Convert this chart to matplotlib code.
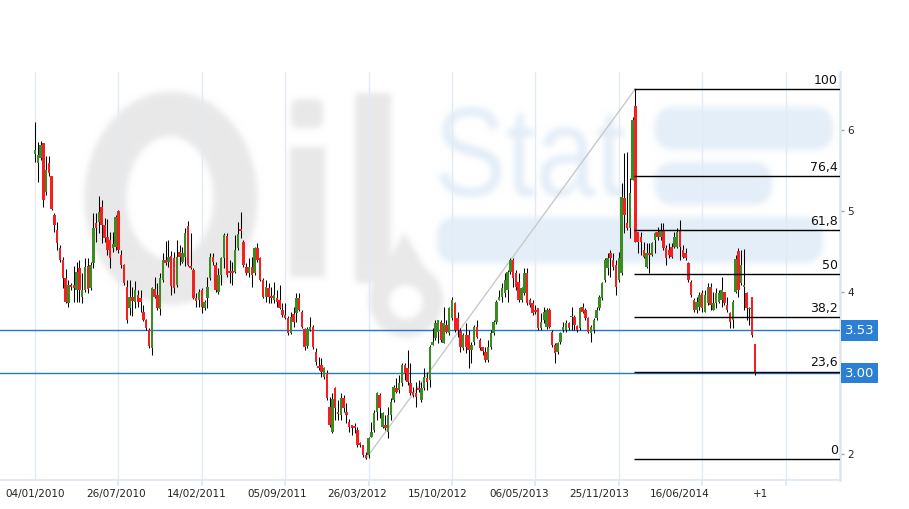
import matplotlib
matplotlib.use("Agg")
import matplotlib.pyplot as plt
import numpy as np
from matplotlib.patches import Ellipse, Rectangle, FancyBboxPatch, Polygon, Circle, PathPatch
from matplotlib.textpath import TextPath
from matplotlib.font_manager import FontProperties
from matplotlib.transforms import Affine2D, blended_transform_factory
from matplotlib.backends.backend_agg import FigureCanvasAgg

# ---------------- data (weekly candles) ----------------
opens = [
    5.70, 5.59, 5.65, 5.84, 5.24, 5.59, 5.43, 4.95, 4.77, 4.54,
    4.40, 4.17, 3.86, 4.09, 4.09, 4.02, 4.30, 3.94, 4.02, 4.32,
    4.05, 4.36, 4.85, 4.86, 5.05, 4.83, 4.68, 4.64, 4.54, 4.56,
    5.00, 4.46, 4.33, 4.06, 3.80, 3.94, 3.88, 3.96, 3.93, 3.75,
    3.65, 3.53, 3.31, 4.04, 3.96, 3.79, 4.15, 4.40, 4.37, 4.44,
    4.42, 4.09, 4.49, 4.37, 4.43, 4.81, 4.32, 4.27, 3.93, 3.90,
    4.02, 3.80, 3.93, 4.17, 4.43, 4.33, 4.00, 4.21, 4.42, 4.69,
    4.26, 4.26, 4.25, 4.54, 4.78, 4.62, 4.31, 4.23, 4.31, 4.23,
    4.54, 4.42, 4.15, 3.94, 4.05, 3.94, 3.90, 3.93, 3.90, 3.78,
    3.72, 3.68, 3.49, 3.73, 3.74, 3.93, 3.75, 3.54, 3.33, 3.53,
    3.57, 3.26, 3.09, 3.10, 2.95, 3.00, 2.58, 2.27, 2.82, 2.52,
    2.48, 2.69, 2.52, 2.40, 2.36, 2.35, 2.30, 2.14, 2.11, 1.99,
    1.99, 2.21, 2.30, 2.52, 2.73, 2.33, 2.36, 2.27, 2.48, 2.67,
    2.81, 2.79, 2.88, 3.10, 3.06, 2.88, 2.77, 2.75, 2.81, 2.67,
    2.81, 2.94, 2.91, 3.35, 3.43, 3.51, 3.63, 3.37, 3.59, 3.49,
    3.68, 3.86, 3.68, 3.52, 3.31, 3.47, 3.47, 3.28, 3.38, 3.57,
    3.41, 3.32, 3.26, 3.16, 3.32, 3.49, 3.63, 3.90, 3.94, 3.99,
    4.02, 4.25, 4.40, 4.23, 4.12, 3.90, 3.99, 4.23, 3.90, 3.86,
    3.78, 3.80, 3.56, 3.65, 3.57, 3.78, 3.51, 3.35, 3.26, 3.38,
    3.53, 3.53, 3.62, 3.69, 3.69, 3.58, 3.56, 3.82, 3.78, 3.68,
    3.49, 3.53, 3.68, 3.80, 3.93, 4.15, 4.30, 4.48, 4.40, 4.33,
    4.15, 4.23, 5.16, 4.85, 4.79, 5.38, 6.30, 4.74, 4.68, 4.52,
    4.31, 4.48, 4.46, 4.64, 4.74, 4.68, 4.77, 4.54, 4.52, 4.56,
    4.56, 4.56, 4.77, 4.52, 4.48, 4.36, 4.12, 3.90, 3.78, 3.82,
    3.99, 3.75, 3.86, 4.06, 3.78, 3.86, 3.88, 3.90, 4.00, 3.84,
    3.74, 3.65, 4.00, 4.51, 4.11, 4.06, 3.99, 3.79, 3.94, 3.36,
]
highs = [
    6.10, 5.85, 5.86, 5.84, 5.68, 5.68, 5.43, 4.98, 4.86, 4.58,
    4.43, 4.28, 4.15, 4.11, 4.32, 4.37, 4.40, 4.23, 4.42, 4.42,
    4.37, 4.98, 4.98, 5.19, 5.14, 4.91, 4.90, 4.74, 4.74, 4.95,
    5.01, 4.52, 4.34, 4.15, 4.15, 4.06, 4.14, 4.02, 4.02, 3.84,
    3.67, 3.56, 4.06, 4.19, 4.11, 4.24, 4.48, 4.63, 4.64, 4.51,
    4.49, 4.64, 4.58, 4.56, 4.79, 4.88, 4.73, 4.30, 3.99, 4.04,
    4.05, 3.90, 4.19, 4.48, 4.48, 4.37, 4.30, 4.43, 4.73, 4.73,
    4.40, 4.37, 4.70, 4.86, 4.99, 4.64, 4.36, 4.42, 4.43, 4.56,
    4.60, 4.43, 4.17, 4.15, 4.11, 4.06, 4.12, 4.02, 4.09, 3.86,
    3.86, 3.70, 3.75, 3.82, 3.99, 3.99, 3.78, 3.56, 3.57, 3.69,
    3.59, 3.31, 3.20, 3.19, 3.08, 3.04, 2.70, 2.75, 2.83, 2.67,
    2.75, 2.73, 2.63, 2.43, 2.36, 2.38, 2.33, 2.15, 2.11, 2.03,
    2.21, 2.40, 2.54, 2.77, 2.75, 2.52, 2.48, 2.58, 2.69, 2.85,
    2.94, 2.98, 3.12, 3.12, 3.28, 3.12, 2.83, 2.89, 2.91, 2.89,
    3.06, 3.01, 3.35, 3.56, 3.65, 3.65, 3.65, 3.82, 3.65, 3.82,
    3.94, 3.88, 3.75, 3.56, 3.49, 3.62, 3.53, 3.38, 3.59, 3.65,
    3.43, 3.32, 3.32, 3.41, 3.53, 3.65, 3.90, 4.02, 4.11, 4.23,
    4.27, 4.42, 4.42, 4.27, 4.23, 4.06, 4.30, 4.30, 3.93, 3.90,
    3.84, 3.80, 3.74, 3.82, 3.80, 3.80, 3.53, 3.37, 3.38, 3.51,
    3.63, 3.65, 3.63, 3.82, 3.72, 3.59, 3.82, 3.86, 3.80, 3.69,
    3.59, 3.68, 3.82, 3.96, 4.12, 4.42, 4.48, 4.52, 4.48, 4.40,
    4.49, 5.35, 5.72, 5.73, 5.41, 6.16, 6.51, 4.74, 4.74, 4.62,
    4.60, 4.60, 4.62, 4.74, 4.80, 4.85, 4.85, 4.58, 4.60, 4.60,
    4.74, 4.79, 4.89, 4.58, 4.54, 4.37, 4.15, 3.93, 3.94, 4.00,
    4.02, 4.02, 4.11, 4.11, 4.00, 4.05, 4.02, 4.19, 4.00, 3.94,
    3.75, 3.90, 4.46, 4.54, 4.52, 4.53, 4.00, 3.82, 3.94, 3.36,
]
lows = [
    5.61, 5.36, 5.63, 5.05, 5.20, 5.43, 5.01, 4.74, 4.52, 4.37,
    4.05, 3.86, 3.81, 4.02, 3.88, 3.88, 3.88, 3.86, 4.00, 3.99,
    4.02, 4.30, 4.62, 4.73, 4.60, 4.62, 4.46, 4.30, 4.49, 4.52,
    4.48, 4.30, 4.09, 3.62, 3.72, 3.70, 3.80, 3.82, 3.75, 3.64,
    3.53, 3.31, 3.22, 3.93, 3.78, 3.72, 4.12, 4.33, 4.31, 3.96,
    3.99, 4.06, 4.33, 4.36, 4.32, 4.32, 4.28, 3.91, 3.82, 3.82,
    3.74, 3.78, 3.80, 4.15, 4.33, 4.00, 3.98, 4.09, 4.30, 4.19,
    4.11, 4.09, 4.23, 4.52, 4.67, 4.31, 4.21, 4.19, 4.06, 4.21,
    4.37, 4.14, 3.93, 3.88, 3.86, 3.86, 3.86, 3.82, 3.79, 3.69,
    3.67, 3.47, 3.48, 3.57, 3.63, 3.77, 3.56, 3.28, 3.31, 3.52,
    3.30, 3.10, 3.04, 2.95, 2.93, 2.67, 2.33, 2.26, 2.42, 2.42,
    2.42, 2.52, 2.38, 2.27, 2.24, 2.26, 2.09, 2.09, 1.96, 1.94,
    1.95, 2.21, 2.27, 2.42, 2.44, 2.32, 2.30, 2.20, 2.42, 2.64,
    2.75, 2.75, 2.84, 2.91, 2.85, 2.73, 2.70, 2.58, 2.77, 2.64,
    2.79, 2.79, 2.83, 3.35, 3.41, 3.37, 3.38, 3.37, 3.49, 3.47,
    3.65, 3.51, 3.44, 3.26, 3.28, 3.25, 3.06, 3.12, 3.35, 3.43,
    3.28, 3.22, 3.14, 3.14, 3.30, 3.47, 3.60, 3.90, 3.88, 3.94,
    3.88, 4.22, 4.06, 4.02, 3.88, 3.88, 3.96, 3.84, 3.82, 3.72,
    3.73, 3.53, 3.53, 3.62, 3.54, 3.56, 3.32, 3.12, 3.24, 3.36,
    3.51, 3.51, 3.53, 3.53, 3.53, 3.51, 3.53, 3.74, 3.65, 3.49,
    3.38, 3.49, 3.65, 3.78, 3.90, 4.12, 4.21, 4.19, 4.27, 3.96,
    4.12, 4.21, 4.73, 4.77, 4.67, 5.38, 4.62, 4.48, 4.46, 4.42,
    4.30, 4.23, 4.44, 4.48, 4.64, 4.64, 4.52, 4.33, 4.42, 4.42,
    4.54, 4.54, 4.40, 4.42, 4.40, 4.12, 3.94, 3.75, 3.74, 3.78,
    3.75, 3.75, 3.84, 3.78, 3.78, 3.80, 3.86, 3.82, 3.84, 3.75,
    3.56, 3.56, 3.99, 3.94, 4.09, 3.78, 3.65, 3.59, 3.44, 2.98,
]
closes = [
    5.75, 5.69, 5.82, 5.14, 5.51, 5.47, 5.03, 4.83, 4.61, 4.40,
    4.17, 3.88, 4.09, 4.06, 4.05, 4.25, 4.02, 4.02, 4.31, 4.04,
    4.33, 4.79, 4.79, 4.99, 4.83, 4.67, 4.52, 4.42, 4.59, 4.93,
    4.52, 4.33, 4.11, 3.65, 3.94, 3.89, 4.02, 3.88, 3.88, 3.65,
    3.56, 3.33, 4.05, 3.94, 3.80, 4.17, 4.40, 4.36, 4.43, 4.07,
    4.05, 4.43, 4.43, 4.48, 4.73, 4.33, 4.30, 3.93, 3.89, 4.00,
    3.82, 3.88, 4.06, 4.43, 4.37, 4.02, 4.21, 4.42, 4.70, 4.21,
    4.23, 4.23, 4.52, 4.72, 4.75, 4.33, 4.23, 4.31, 4.21, 4.54,
    4.40, 4.15, 3.94, 4.06, 3.94, 3.93, 3.96, 3.88, 3.80, 3.72,
    3.68, 3.49, 3.69, 3.63, 3.93, 3.78, 3.57, 3.32, 3.54, 3.57,
    3.32, 3.14, 3.06, 3.01, 3.06, 2.69, 2.36, 2.68, 2.57, 2.49,
    2.69, 2.57, 2.48, 2.33, 2.32, 2.32, 2.11, 2.11, 1.99, 1.95,
    2.20, 2.27, 2.51, 2.75, 2.57, 2.51, 2.32, 2.48, 2.64, 2.83,
    2.77, 2.88, 3.10, 3.00, 2.89, 2.75, 2.73, 2.70, 2.79, 2.81,
    2.95, 2.89, 3.32, 3.38, 3.62, 3.65, 3.41, 3.62, 3.51, 3.80,
    3.90, 3.53, 3.53, 3.32, 3.47, 3.32, 3.28, 3.35, 3.57, 3.44,
    3.31, 3.27, 3.16, 3.32, 3.49, 3.63, 3.88, 3.94, 4.05, 4.15,
    4.25, 4.40, 4.17, 4.06, 3.90, 4.05, 4.23, 3.86, 3.84, 3.74,
    3.75, 3.56, 3.63, 3.75, 3.78, 3.57, 3.35, 3.25, 3.37, 3.49,
    3.57, 3.62, 3.56, 3.70, 3.59, 3.53, 3.80, 3.75, 3.68, 3.51,
    3.57, 3.65, 3.78, 3.94, 4.11, 4.40, 4.42, 4.42, 4.31, 4.06,
    4.42, 5.17, 4.95, 4.79, 5.22, 6.12, 4.62, 4.62, 4.62, 4.43,
    4.48, 4.46, 4.60, 4.73, 4.68, 4.77, 4.54, 4.42, 4.46, 4.43,
    4.68, 4.74, 4.56, 4.43, 4.42, 4.15, 3.96, 3.78, 3.88, 3.96,
    3.80, 3.96, 4.06, 3.84, 3.86, 3.99, 3.99, 4.02, 3.86, 3.78,
    3.63, 3.88, 4.41, 4.02, 4.33, 4.09, 3.80, 3.80, 3.47, 3.00,
]
date_labels = ["04/01/2010", "26/07/2010", "14/02/2011", "05/09/2011",
               "26/03/2012", "15/10/2012", "06/05/2013", "25/11/2013",
               "16/06/2014", "+1"]
label_step = 29          # weeks between two date labels
grid_step = 30           # bars between two vertical grid lines
fib_levels = [0, 23.6, 38.2, 50, 61.8, 76.4, 100]
ref_level = 3.53
y_ticks = [2, 4, 5, 6]

# ---------------- figure ----------------
W, H = 909, 509
DPI = 100
fig = plt.figure(figsize=(W / DPI, H / DPI), dpi=DPI)
fig.patch.set_facecolor("white")

# ---- watermark: drawn off-screen, softened, then placed behind the chart ----
wfig = plt.figure(figsize=(W / DPI, H / DPI), dpi=DPI)
wax = wfig.add_axes([0, 0, 1, 1])
wax.set_xlim(0, W)
wax.set_ylim(H, 0)
wax.axis("off")
wm_gray = "#e9e9e9"
wm_blue = "#e4eef8"
wax.add_patch(Ellipse((171, 198), 173, 213, fc=wm_gray, ec="none"))
wax.add_patch(Ellipse((170, 198), 87, 123, fc="white", ec="none"))
wax.add_patch(FancyBboxPatch((291, 99), 32, 29, boxstyle="round,pad=0,rounding_size=8", fc=wm_gray, ec="none"))
wax.add_patch(Rectangle((290, 147), 35, 130, fc=wm_gray, ec="none"))
wax.add_patch(Rectangle((355, 93), 36, 190, fc=wm_gray, ec="none"))
wax.add_patch(Polygon([(374, 290), (404, 232), (438, 290)], closed=True, fc=wm_gray, ec="none"))
wax.add_patch(Circle((406, 300), 37, fc=wm_gray, ec="none"))
wax.add_patch(Circle((406, 302), 17, fc="white", ec="none"))
tp = TextPath((0, 0), "Stat", size=100, prop=FontProperties(family="Liberation Sans"))
bb = tp.get_extents()
tr = Affine2D().translate(-bb.x0, -bb.y0).scale(186 / bb.width, -90 / bb.height).translate(439, 197)
wax.add_patch(PathPatch(tr.transform_path(tp), fc=wm_blue, ec="none"))
for (bx, by, bw, bh) in [(655, 107, 178, 43), (655, 162, 117, 43), (437, 217, 386, 46)]:
    wax.add_patch(FancyBboxPatch((bx, by), bw, bh, boxstyle="round,pad=0,rounding_size=20",
                                 fc=wm_blue, ec="none"))
canvas = FigureCanvasAgg(wfig)
canvas.draw()
img = np.asarray(canvas.buffer_rgba())[..., :3].astype(float) / 255.0
plt.close(wfig)


def box_blur(a, r, axis):
    pad = [(0, 0)] * a.ndim
    pad[axis] = (r + 1, r)
    p = np.pad(a, pad, mode="edge")
    cs = np.cumsum(p, axis=axis)
    hi = np.take(cs, np.arange(2 * r + 1, cs.shape[axis]), axis=axis)
    lo_ = np.take(cs, np.arange(0, cs.shape[axis] - 2 * r - 1), axis=axis)
    return (hi - lo_) / (2 * r + 1)


for _ in range(2):
    img = box_blur(img, 3, 0)
    img = box_blur(img, 3, 1)
img = np.clip(img, 0, 1)

bg = fig.add_axes([0, 0, 1, 1], zorder=0)
bg.imshow(img, extent=(0, W, H, 0), interpolation="bilinear", aspect="auto")
bg.set_xlim(0, W)
bg.set_ylim(H, 0)
bg.axis("off")

# ---------------- main chart ----------------
ax = fig.add_axes([0, (H - 480) / H, 840 / W, (480 - 72) / H], zorder=1)
ax.patch.set_alpha(0)

o = np.array(opens)
h = np.array(highs)
l = np.array(lows)
c = np.array(closes)
n = len(c)
x = np.arange(n)

px_per_bar = 2.78
ax.set_xlim(-35 / px_per_bar, (840 - 35) / px_per_bar)
ax.set_ylim(7.605 - 480 / 81, 7.605 - 72 / 81)

grid_col = "#e2ebf5"
grid_pos = list(range(0, int((840 - 35) / px_per_bar) + 1, grid_step))
for g in grid_pos:
    ax.axvline(g, color=grid_col, lw=1.0, zorder=0.5)

# candles
green = "#3b8a22"
red = "#f51f1f"
ax.vlines(x, np.minimum(l, np.minimum(o, c)), np.maximum(h, np.maximum(o, c)),
          color="black", lw=0.75, zorder=3)
body = np.maximum(np.abs(c - o), 0.015)
ax.bar(x, body, bottom=np.minimum(o, c), width=0.88,
       color=np.where(c >= o, green, red), linewidth=0, zorder=4)

# fibonacci retracement
lo, hi = l.min(), h.max()
lo_i, hi_i = int(l.argmin()), int(h.argmax())
ax.plot([lo_i, hi_i], [lo, hi], color="#c9c9c9", lw=1, zorder=2)
xmax = ax.get_xlim()[1]
btr = blended_transform_factory(ax.transAxes, ax.transData)
for lev in fib_levels:
    yv = lo + (hi - lo) * lev / 100
    ax.hlines(yv, hi_i - 0.5, xmax, color="black", lw=1, zorder=5)
    ax.annotate(f"{lev:g}".replace(".", ","), xy=(0.9975, yv), xycoords=btr,
                xytext=(0, 1.5), textcoords="offset points",
                ha="right", va="bottom", fontsize=9, color="#111111", zorder=6)

# blue reference lines and price boxes
line_blue = "#1f78d2"
box_blue = "#2b7fd4"
for v in [ref_level, closes[-1]]:
    ax.axhline(v, color=line_blue, lw=1, zorder=2.6)
    ax.text(1.0055, v, f"{v:.2f}", transform=btr, ha="left", va="center",
            fontsize=9.5, color="white", zorder=20, clip_on=False,
            bbox=dict(boxstyle="square,pad=0.3", fc=box_blue, ec="none"))

# axes styling
for s in ["top", "left"]:
    ax.spines[s].set_visible(False)
ax.spines["bottom"].set_color("#dbe6f1")
ax.spines["bottom"].set_linewidth(1.2)
ax.spines["right"].set_color("#dbe6f1")
ax.spines["right"].set_linewidth(1.8)

ax.yaxis.tick_right()
ax.set_yticks(y_ticks)
ax.set_yticklabels([str(t) for t in y_ticks])
ax.tick_params(axis="y", length=3, width=1, color="#9aa7b5", pad=2.5,
               labelsize=7.5, labelcolor="#222222")

ax.set_xticks([k * label_step for k in range(len(date_labels))])
ax.set_xticklabels(date_labels)
ax.tick_params(axis="x", which="major", length=0, pad=6.5, labelsize=7.5, labelcolor="#222222")
ax.set_xticks(grid_pos, minor=True)
ax.tick_params(axis="x", which="minor", length=4, width=1.2, color="#dbe6f1")

fig.savefig("out.png", dpi=DPI, facecolor="white")
